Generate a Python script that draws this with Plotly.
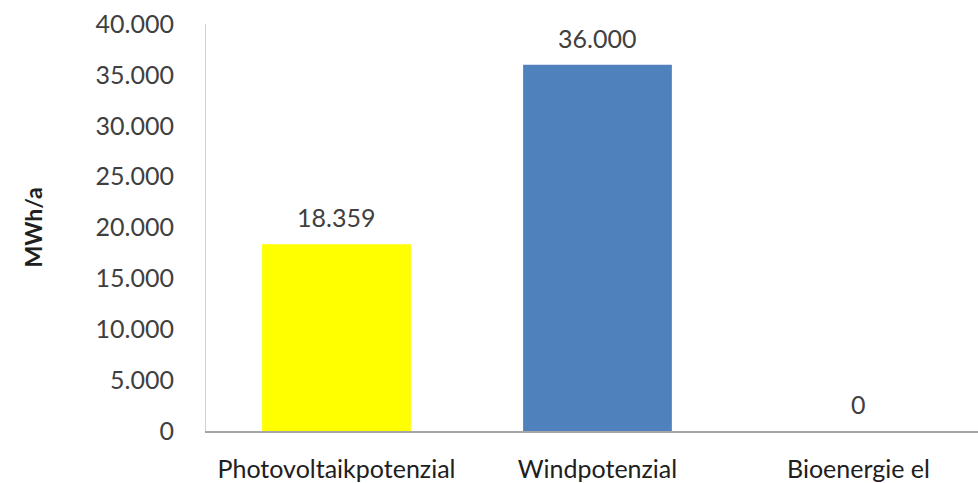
import plotly.graph_objects as go

# Energy potentials (MWh per year)
categories = ["Photovoltaikpotenzial", "Windpotenzial", "Bioenergie el"]
values = [18359, 36000, 0]
bar_colors = ["#FFFF00", "#4F81BD", "#4F81BD"]
y_ticks = [0, 5000, 10000, 15000, 20000, 25000, 30000, 35000, 40000]

font_family = "Lato, Open Sans, sans-serif"
text_color = "#404040"

fig = go.Figure()
fig.add_trace(go.Bar(
    x=categories,
    y=values,
    marker=dict(color=bar_colors, line=dict(width=0)),
    width=0.57,
    hoverinfo="skip",
))

# Value labels above each bar, taken from the same values
for cat, val in zip(categories, values):
    label = f"{val:,}".replace(",", ".")
    fig.add_annotation(
        x=cat, y=val, text=label, showarrow=False,
        yanchor="bottom", yshift=10,
        font=dict(family=font_family, size=25, color=text_color),
    )

fig.update_layout(
    width=978, height=483,
    margin=dict(l=206, r=0, t=24, b=50),
    paper_bgcolor="white", plot_bgcolor="white",
    separators=",.",
    showlegend=False,
    font=dict(family=font_family, size=25, color=text_color),
)

fig.update_xaxes(
    range=[-0.5, 2.458],
    showline=True, linecolor="#A6A6A6", linewidth=1.5,
    showgrid=False, zeroline=False,
    ticks="", ticklabelstandoff=15,
    tickfont=dict(family=font_family, size=25, color="#202020"),
)

fig.update_yaxes(
    range=[0, 40000],
    tickvals=y_ticks, tickformat=",.0f",
    showline=True, linecolor="#D0D0D0", linewidth=1,
    showgrid=False, zeroline=False,
    ticks="", ticklabelstandoff=26,
    tickfont=dict(family=font_family, size=25, color=text_color),
    title=dict(text="<b>MWh/a</b>", standoff=46,
               font=dict(family=font_family, size=23, color="#202020")),
)

fig.write_html("out.html")
